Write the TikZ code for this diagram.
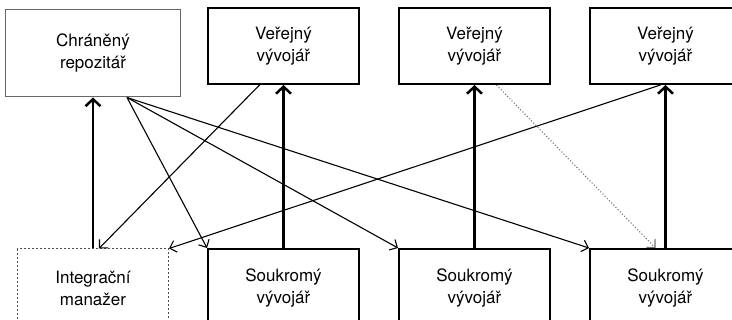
\documentclass[tikz,border=0pt]{standalone}
\usepackage{fontspec}
\setmainfont{TeX Gyre Heros}
\usetikzlibrary{arrows.meta, positioning}
\tikzset{
  pubbox/.style ={draw, line width=2pt, align=center, inner sep=0pt,
                  minimum width=151pt, minimum height=76pt,
                  font=\fontsize{17}{22}\selectfont},
  devbox/.style ={pubbox, minimum height=78pt},
  intbox/.style ={devbox, draw=black!70, dotted, line width=1pt},
  repbox/.style ={pubbox, draw=black!60, line width=1pt,
                  minimum width=175pt, minimum height=87pt},
  push/.style   ={-{Straight Barb[length=7pt, width=15pt]}, line width=2.5pt},
  pull/.style   ={-{Straight Barb[length=6pt, width=12pt]}, line width=1.1pt},
  peer/.style   ={pull, dotted, draw=black!55},
}
\begin{document}
\begin{tikzpicture}[x=1pt, y=1pt, node distance=38pt]
  \useasboundingbox (0,0) rectangle (732,-320);
  \clip (0,0) rectangle (732,-320);

  \node[pubbox]                    (pub1) at (283.5,-46) {Veřejný\\vývojář};
  \node[pubbox, right=of pub1]     (pub2) {Veřejný\\vývojář};
  \node[pubbox, right=of pub2]     (pub3) {Veřejný\\vývojář};

  \node[devbox, below=163pt of pub1] (dev1) {Soukromý\\vývojář};
  \node[devbox, right=of dev1]       (dev2) {Soukromý\\vývojář};
  \node[devbox, right=of dev2]       (dev3) {Soukromý\\vývojář};

  \node[intbox, left=of dev1]        (int) {Integrační\\manažer};
  \node[repbox, above=151pt of int]  (rep) {Chráněný\\repozitář};

  \coordinate (repout)  at ([xshift=34pt]rep.south);
  \coordinate (pub1out) at ([xshift=-24pt]pub1.south);
  \coordinate (pub2out) at ([xshift=22pt]pub2.south);
  \coordinate (pub3out) at ([xshift=-5pt]pub3.south);
  \coordinate (intin)   at ([xshift=6pt]int.north);
  \coordinate (dev3in)  at ([xshift=-10pt]dev3.north);

  \draw[pull] (repout)  -- (dev1.north west);
  \draw[pull] (repout)  -- (dev2.north west);
  \draw[pull] (repout)  -- (dev3.north west);
  \draw[pull] (pub1out) -- (intin);
  \draw[pull] (pub3out) -- (int.north east);
  \draw[peer] (pub2out) -- (dev3in);

  \draw[push] (int)  -- (rep);
  \draw[push] (dev1) -- (pub1);
  \draw[push] (dev2) -- (pub2);
  \draw[push] (dev3) -- (pub3);
\end{tikzpicture}
\end{document}
